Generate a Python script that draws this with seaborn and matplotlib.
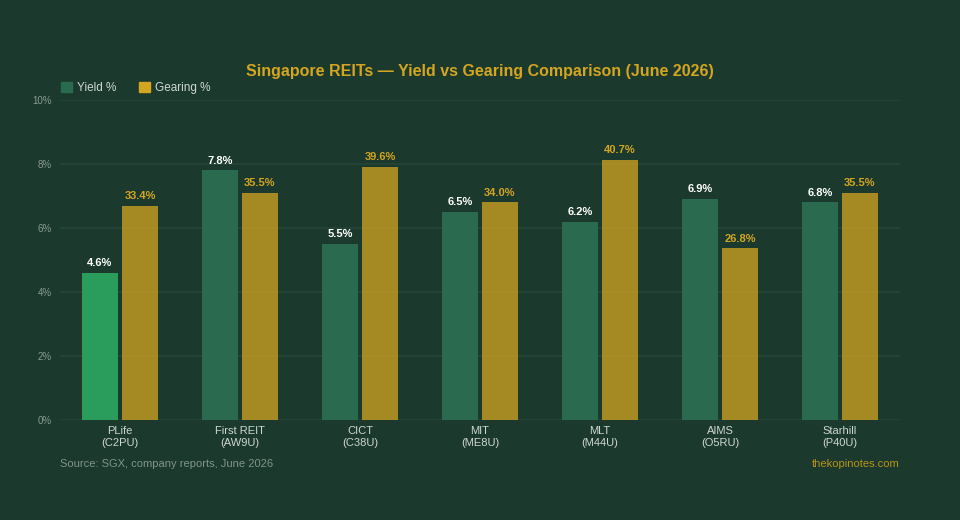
import matplotlib.pyplot as plt
import matplotlib.patches as mpatches
import pandas as pd
import seaborn as sns

tickers = ["PLife\n(C2PU)", "First REIT\n(AW9U)", "CICT\n(C38U)", "MIT\n(ME8U)",
           "MLT\n(M44U)", "AIMS\n(O5RU)", "Starhill\n(P40U)"]
yield_pct = [4.6, 7.8, 5.5, 6.5, 6.2, 6.9, 6.8]
gearing_pct = [33.4, 35.5, 39.6, 34.0, 40.7, 26.8, 35.5]
gearing_scale = 5  # gearing drawn on the yield axis at 1/5 scale
y_ticks = [0, 2, 4, 6, 8, 10]

bg = "#1b3a2d"
green = "#2a6b4f"
highlight = "#2a9d5c"
gold = "#d4a520"
grid_c = "#264636"
tick_c = "#cfd6d2"

df = pd.DataFrame({
    "reit": tickers * 2,
    "series": ["Yield %"] * len(tickers) + ["Gearing %"] * len(tickers),
    "value": yield_pct + [g / gearing_scale for g in gearing_pct],
})

sns.set_theme(style="white")
plt.rcParams["font.family"] = ["Liberation Sans", "DejaVu Sans"]

fig = plt.figure(figsize=(9.6, 5.2), dpi=100, facecolor=bg)
ax = fig.add_axes([0.0625, 0.1923, 0.875, 0.6154], facecolor=bg)

sns.barplot(data=df, x="reit", y="value", hue="series",
            palette={"Yield %": green, "Gearing %": gold},
            width=0.667, gap=0.1, saturation=1, legend=False,
            linewidth=0, edgecolor="none", ax=ax)

yield_bars, gear_bars = ax.containers[0], ax.containers[1]
for bar in gear_bars:
    bar.set_alpha(0.75)
yield_bars[0].set_facecolor(highlight)

for bar, v in zip(yield_bars, yield_pct):
    ax.text(bar.get_x() + bar.get_width() / 2, bar.get_height() + 0.15, f"{v:.1f}%",
            ha="center", va="bottom", color="white", fontsize=8, fontweight="bold")
for bar, v in zip(gear_bars, gearing_pct):
    ax.text(bar.get_x() + bar.get_width() / 2, bar.get_height() + 0.15, f"{v:.1f}%",
            ha="center", va="bottom", color=gold, fontsize=8, fontweight="bold")

ax.set_xlim(-0.5, len(tickers) - 0.5)
ax.set_ylim(0, 10)
ax.set_yticks(y_ticks, [f"{t}%" for t in y_ticks])
ax.tick_params(axis="y", colors="#8a9a90", labelsize=7, length=0, pad=6)
ax.tick_params(axis="x", colors=tick_c, labelsize=8, length=0, pad=4)
for lab in ax.get_xticklabels():
    lab.set_linespacing(1.25)
ax.set_xlabel("")
ax.set_ylabel("")
ax.grid(axis="y", color=grid_c, lw=1.2)
ax.set_axisbelow(True)
for s in ax.spines.values():
    s.set_visible(False)

fig.text(0.5, 0.862, "Singapore REITs \u2014 Yield vs Gearing Comparison (June 2026)",
         ha="center", va="center", color=gold, fontsize=11.5, fontweight="bold")

handles = [mpatches.Patch(color=green, label="Yield %"),
           mpatches.Patch(color=gold, label="Gearing %")]
fig.legend(handles=handles, loc="center left", bbox_to_anchor=(0.052, 0.831),
           ncol=2, frameon=False, fontsize=8.5, labelcolor=tick_c,
           handlelength=0.95, handleheight=1.0, handletextpad=0.45, columnspacing=1.9)

fig.text(0.0625, 0.107, "Source: SGX, company reports, June 2026",
         ha="left", va="center", color="#7f9588", fontsize=8)
fig.text(0.9375, 0.107, "thekopinotes.com", ha="right", va="center",
         color="#b8921c", fontsize=8)

fig.savefig("out.png", dpi=100, facecolor=bg)
